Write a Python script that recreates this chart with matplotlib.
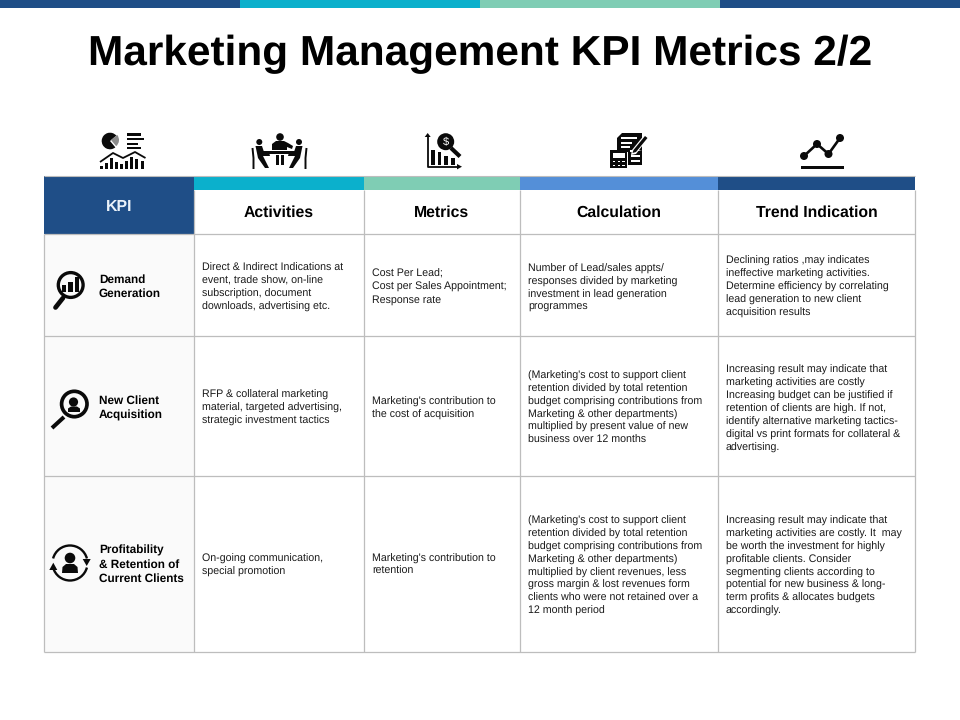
import matplotlib
matplotlib.use("Agg")
import matplotlib.pyplot as plt
from matplotlib.patches import Rectangle, Circle, Polygon, Wedge, Arc
from matplotlib.lines import Line2D

plt.rcParams['font.family'] = ['Liberation Sans', 'DejaVu Sans']
plt.rcParams['text.hinting'] = 'no_hinting'
plt.rcParams['text.hinting_factor'] = 8

TITLE = "Marketing Management KPI Metrics 2/2"
TOP_BAND_COLORS = ["#1F4E87", "#0BB0CC", "#7FCDB4", "#1F4E87"]
COL_EDGES = [44, 194, 364, 520, 718, 915]
ROW_EDGES = [176, 190, 234, 336, 476, 652]
HEADERS = ["Activities", "Metrics", "Calculation", "Trend Indication"]
HEADER_COLORS = ["#0BB0CC", "#7FCDB4", "#548FD8", "#1F4E87"]
KPI_LABEL = "KPI"
KPI_NAMES = ["Demand\nGeneration", "New Client\nAcquisition",
             "Profitability\n& Retention of\nCurrent Clients"]
ACTIVITIES = [
    "Direct & Indirect Indications at\nevent, trade show, on-line\nsubscription, document\ndownloads, advertising etc.",
    "RFP & collateral marketing\nmaterial, targeted advertising,\nstrategic investment tactics",
    "On-going communication,\nspecial promotion",
]
METRICS = [
    "Cost Per Lead;\nCost per Sales Appointment;\nResponse rate",
    "Marketing's contribution to\nthe cost of acquisition",
    "Marketing's contribution to\nretention",
]
CALCULATION = [
    "Number of Lead/sales appts/\nresponses divided by marketing\ninvestment in lead generation\nprogrammes",
    "(Marketing's cost to support client\nretention divided by total retention\nbudget comprising contributions from\nMarketing & other departments)\nmultiplied by present value of new\nbusiness over 12 months",
    "(Marketing's cost to support client\nretention divided by total retention\nbudget comprising contributions from\nMarketing & other departments)\nmultiplied by client revenues, less\ngross margin & lost revenues form\nclients who were not retained over a\n12 month period",
]
TREND = [
    "Declining ratios ,may indicates\nineffective marketing activities.\nDetermine efficiency by correlating\nlead generation to new client\nacquisition results",
    "Increasing result may indicate that\nmarketing activities are costly\nIncreasing budget can be justified if\nretention of clients are high. If not,\nidentify alternative marketing tactics-\ndigital vs print formats for collateral &\nadvertising.",
    "Increasing result may indicate that\nmarketing activities are costly. It  may\nbe worth the investment for highly\nprofitable clients. Consider\nsegmenting clients according to\npotential for new business & long-\nterm profits & allocates budgets\naccordingly.",
]

fig = plt.figure(figsize=(9.6, 7.2), dpi=100, facecolor="white")
ax = fig.add_axes([0, 0, 1, 1])
ax.set_xlim(0, 960); ax.set_ylim(720, 0); ax.axis("off")
K = "#0A0A0A"; GRID = "#BDBDBD"

def rect(x0, y0, x1, y1, c, z=1):
    ax.add_patch(Rectangle((x0, y0), x1 - x0, y1 - y0, fc=c, ec="none", zorder=z))
def line(xs, ys, lw=1.0, c=K, z=5, cap="butt"):
    ax.add_line(Line2D(xs, ys, lw=lw, color=c, zorder=z, solid_capstyle=cap))
def circ(x, y, r, fc=K, ec="none", lw=0, z=5):
    ax.add_patch(Circle((x, y), r, fc=fc, ec=ec, lw=lw, zorder=z))
def poly(pts, c=K, z=5):
    ax.add_patch(Polygon(pts, closed=True, fc=c, ec="none", zorder=z))

# top band
for i, c in enumerate(TOP_BAND_COLORS):
    rect(240 * i, 0, 240 * (i + 1), 8, c)

ax.text(480, 65, TITLE, fontsize=30.5, fontweight="bold", ha="center", va="baseline", color="black")

# table
x = COL_EDGES; y = ROW_EDGES
rect(x[0], y[2], x[1], y[5], "#FAFAFA", 0)
rect(x[0], y[0], x[1], y[2], "#1F4E87", 2)
for i, c in enumerate(HEADER_COLORS):
    rect(x[i + 1], y[0], x[i + 2], y[1], c, 2)
for xx in x[1:]:
    line([xx, xx], [y[1], y[5]], 0.9, GRID, 3)
line([x[0], x[0]], [y[2], y[5]], 0.9, GRID, 3)
line([x[0], x[5]], [y[0], y[0]], 0.8, GRID, 3)
for yy in y[2:]:
    line([x[0], x[5]], [yy, yy], 0.9, GRID, 3)

ax.text(119.5, 211, KPI_LABEL, fontsize=11.4, fontweight="bold", color="#EAF2FA", ha="center", va="baseline")
for i, h in enumerate(HEADERS):
    ax.text((x[i + 1] + x[i + 2]) / 2, 217, h, fontsize=11.35, fontweight="bold", ha="center", va="baseline", color="black")

BODY = dict(fontsize=7.65, ha="left", va="center", color="#1A1A1A", linespacing=1.33)
BOLD = dict(fontsize=8.5, ha="left", va="center", color="black", fontweight="bold", linespacing=1.36)
for t, yc in zip(KPI_NAMES, [286.5, 408, 564.5]):
    ax.text(99, yc, t, **BOLD)
for t, yc in zip(ACTIVITIES, [287.5, 408, 565]):
    ax.text(202, yc, t, **BODY)
for t, yc in zip(METRICS, [287, 408, 565]):
    ax.text(372, yc, t, **BODY)
for t, yc in zip(CALCULATION, [288, 408, 566]):
    ax.text(528, yc, t, **BODY)
for t, yc in zip(TREND, [287, 409, 566]):
    ax.text(726, yc, t, **BODY)

# --- header icons ---
# 1: pie, bars, trend + columns
ax.add_patch(Wedge((110, 141), 8.3, 50, 320, fc=K, ec="none", zorder=5))
ax.add_patch(Wedge((111, 140), 8, -40, 50, fc="#8A8A8A", ec="none", zorder=5))
for yt, xe in [(133, 141), (137.8, 144), (142.6, 138)]:
    rect(127, yt, xe, yt + 2.6, K)
rect(127, 146.5, 141, 148.5, K)
line([100, 113, 123, 135, 145.5], [162, 153, 158, 152, 158], 1.3)
for xb, h in [(101.5, 3), (106, 6), (111, 11), (116, 7), (121, 5), (126, 8), (131, 12), (136, 10), (142.5, 8)]:
    rect(xb - 1.5, 169 - h, xb + 1.5, 169, K)

# 2: meeting
circ(259.3, 142, 3); circ(280, 137, 3.8); circ(299, 142, 3)
poly([(272, 150), (272, 144), (276, 141), (284, 141), (288, 143), (293, 146), (292, 149), (287, 147), (287, 150)])
rect(263, 151, 297, 154, K)
poly([(255.5, 146), (262, 146), (264, 152), (269, 152), (270, 156), (263, 156), (269, 168), (265, 168), (258, 158)])
poly([(302.5, 146), (296, 146), (294, 152), (289, 152), (288, 156), (295, 156), (289, 168), (293, 168), (300, 158)])
line([252.5, 253.5, 253.5], [148, 158, 169], 1.4); line([306.5, 305.5, 305.5], [148, 158, 169], 1.4)
rect(276, 155, 279, 165, K); rect(280.5, 155, 283.5, 165, K)

# 3: chart with dollar magnifier
line([427.7, 427.7, 458], [136, 166.7, 166.7], 1.3)
poly([(424.7, 137), (430.7, 137), (427.7, 133)]); poly([(457, 164), (457, 169.4), (462, 166.7)])
for xb, t in [(433, 150), (439.5, 152), (446, 156), (453, 158)]:
    rect(xb - 1.8, t, xb + 1.8, 165, K)
circ(445.7, 141.7, 8.5)
ax.text(445.7, 141.7, "$", fontsize=8, color="white", ha="center", va="center", zorder=6)
line([451, 460], [148, 156.5], 3.0)

# 4: calculator and documents
poly([(617, 138), (622, 133), (642, 133), (642, 150), (630, 150), (630, 152), (617, 152)])
rect(621, 137, 637, 139, "white", 6); rect(621, 142, 632, 144, "white", 6); rect(621, 146, 630, 148, "white", 6)
poly([(628, 152), (628, 165), (642, 165), (642, 150), (634, 152)])
rect(631, 155, 640, 157, "white", 6); rect(631, 160, 640, 162, "white", 6)
poly([(632, 150), (645, 134), (649, 137), (636, 154), (631, 155)], "white", 6)
poly([(633.5, 150), (645, 136), (647.5, 138), (636, 152), (632.5, 153)], K, 7)
rect(610, 150, 627, 168, K, 7)
rect(612.5, 153, 624.5, 157.5, "white", 8)
for yy in (160.5, 164.5):
    for xx in (612.5, 617.5, 622):
        rect(xx, yy, xx + 2.6, yy + 1.7, "white", 8)

# 5: trend line
tx = [804, 817, 828.5, 840]; ty = [156, 144, 154, 138]
line(tx, ty, 1.9)
for a, b in zip(tx, ty):
    circ(a, b, 4.0)
rect(801, 165.5, 844, 168.7, K)

# --- row icons ---
# magnifier with bars
circ(70.7, 285, 12.4, fc="none", ec=K, lw=2.4)
for xb0, xb1, yt in [(62, 66, 285), (68, 73, 281.7), (75, 79, 277)]:
    rect(xb0, yt, xb1, 291.7, K)
line([63, 55.5], [298, 307.5], 3.4, cap="round")
# magnifier with person
circ(74.3, 404, 12.7, fc="none", ec=K, lw=2.66)
circ(73.5, 402, 4.6)
poly([(68, 412), (68, 408.5), (71, 406.5), (77, 406.5), (80, 408.5), (80, 412)])
line([64, 52], [417, 428], 2.9)
# cycle with person
ax.add_patch(Arc((70, 563), 35, 35, theta1=195, theta2=345, lw=1.7, color=K, zorder=5))
ax.add_patch(Arc((70, 563), 35, 35, theta1=15, theta2=165, lw=1.7, color=K, zorder=5))
poly([(49.3, 570), (57.3, 570), (53.3, 562.7)])
poly([(82.7, 559), (90.7, 559), (86.7, 566)])
circ(70, 558, 5.3)
poly([(62, 573), (62.5, 567), (66, 564), (74, 564), (77.5, 567), (78, 573)])

fig.savefig("out.png", dpi=100, facecolor="white")
